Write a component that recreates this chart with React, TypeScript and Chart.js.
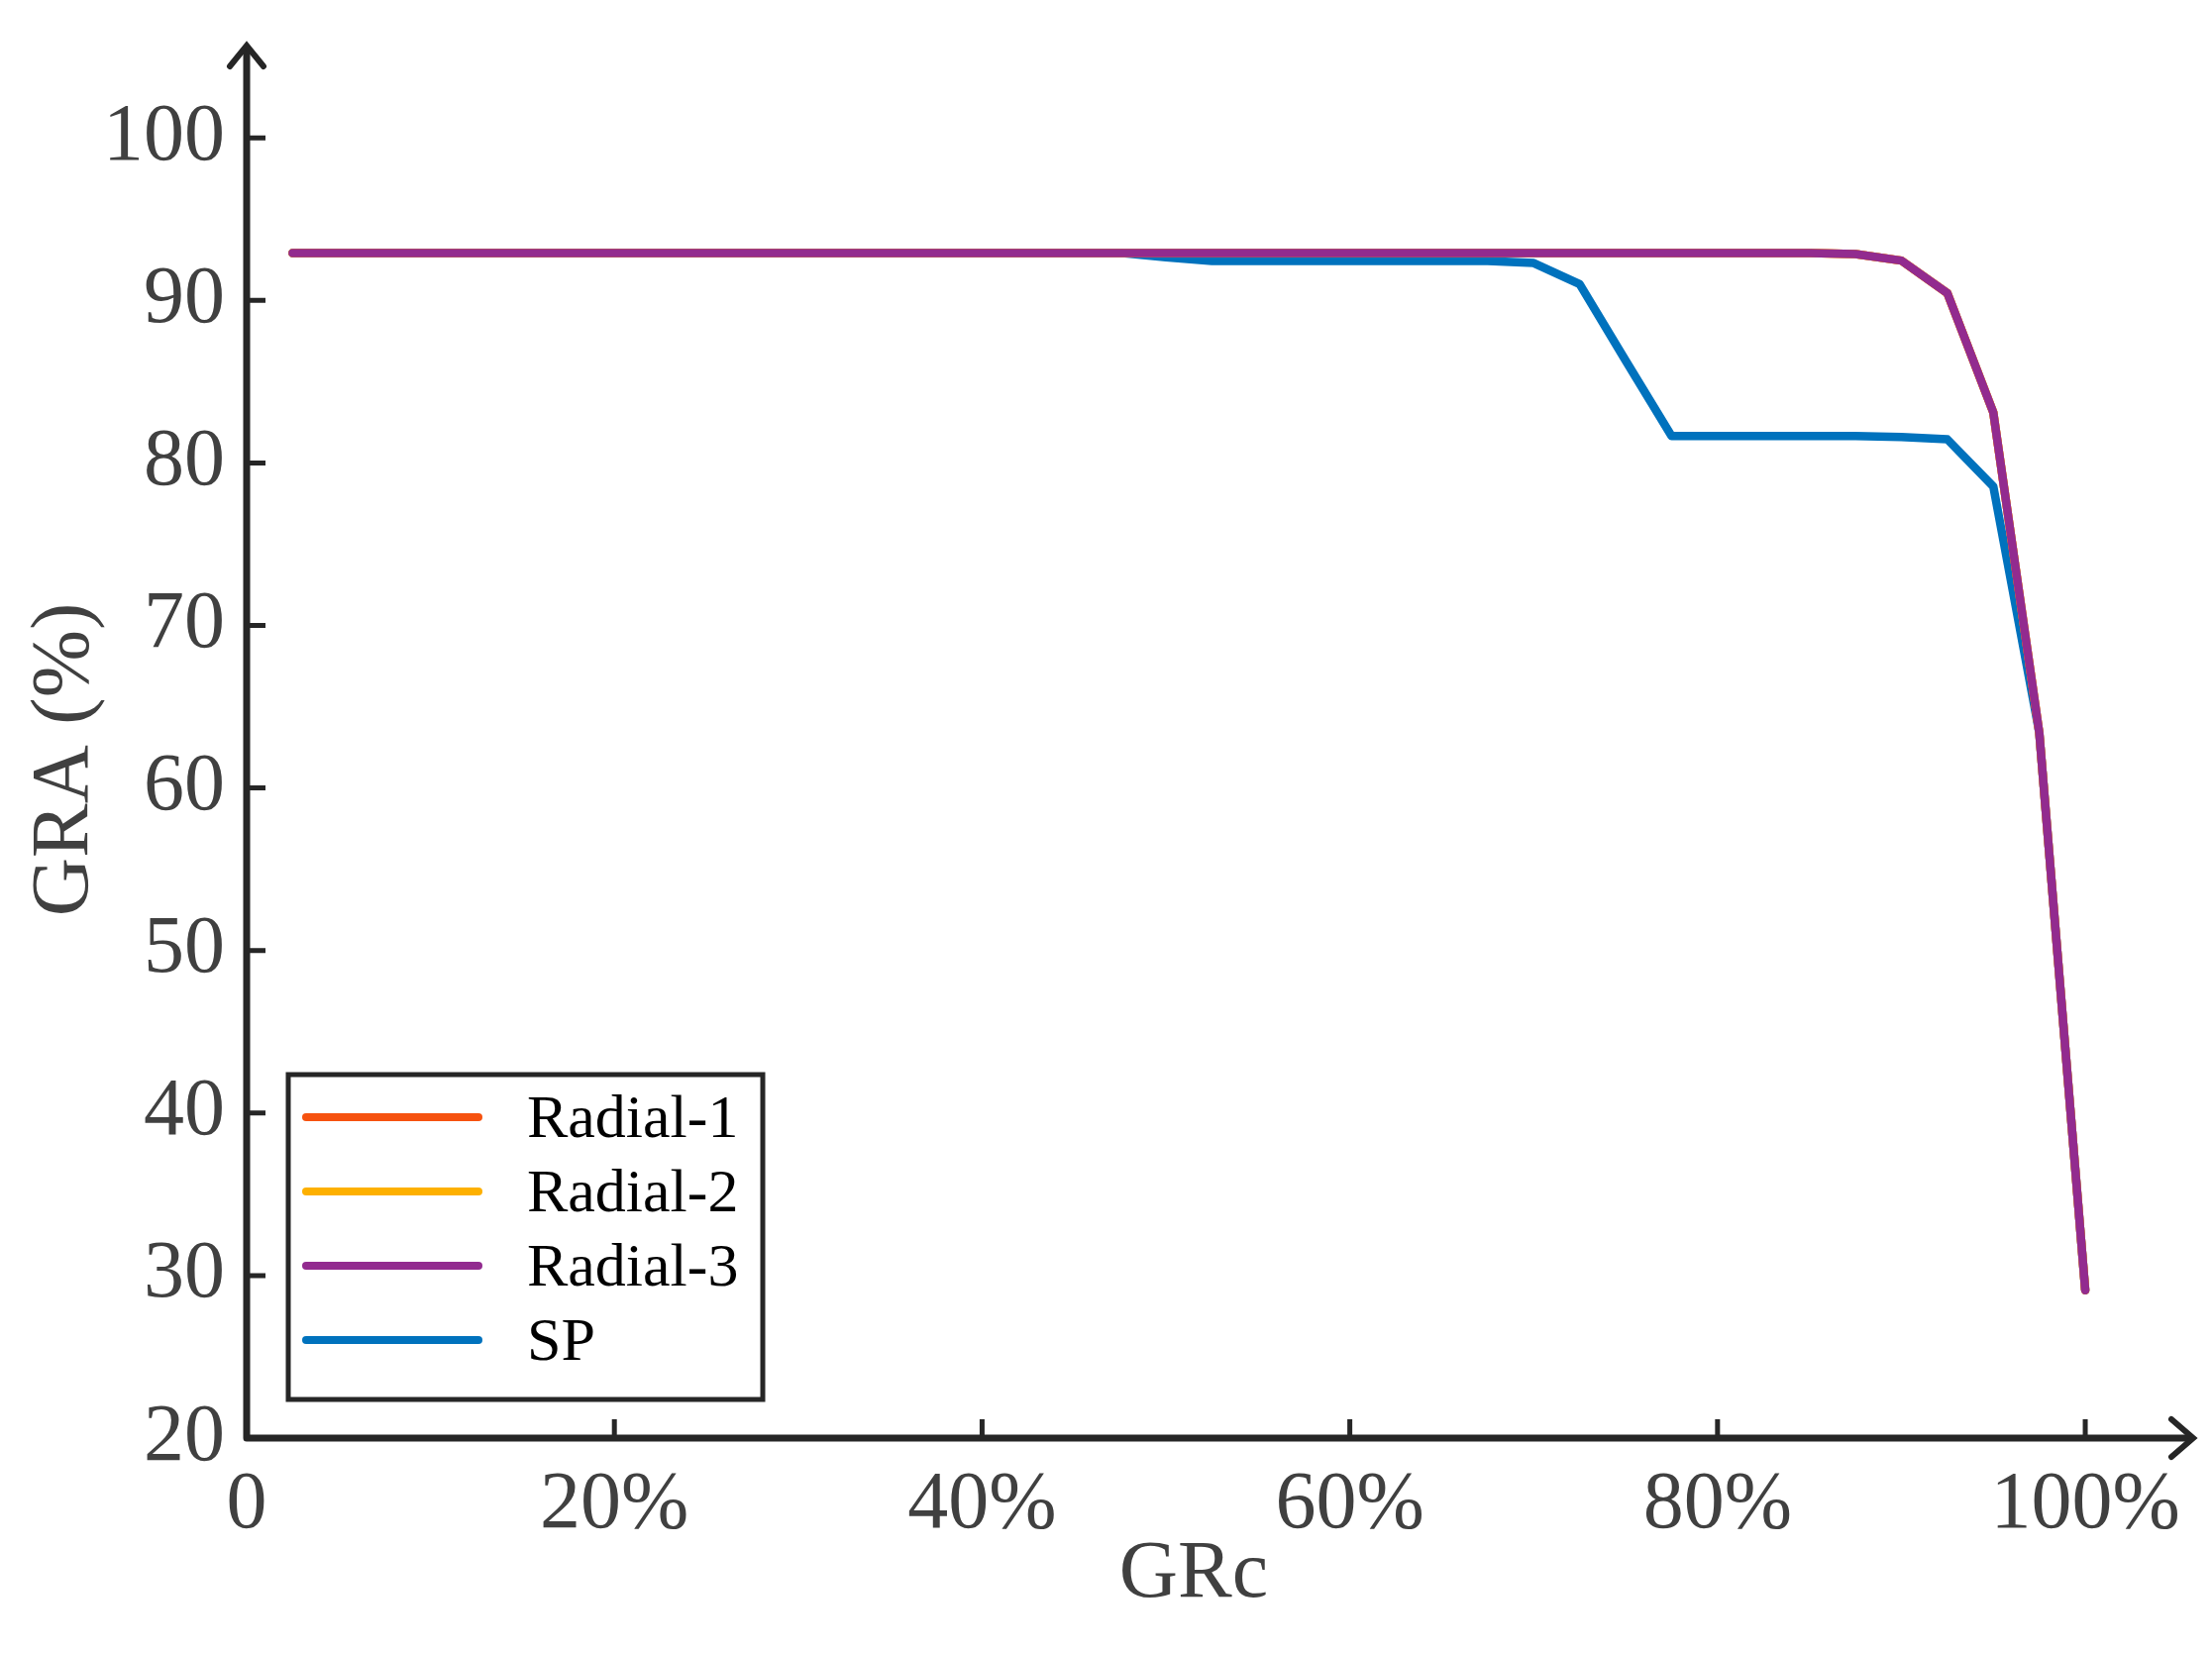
import React, { useEffect, useRef } from 'react';
import { Chart, registerables } from 'chart.js';

Chart.register(...registerables);

// GRc values (x axis, %)
const grc = [
  2.5, 5, 7.5, 10, 12.5, 15, 17.5, 20, 22.5, 25,
  27.5, 30, 32.5, 35, 37.5, 40, 42.5, 45, 47.5, 50,
  52.5, 55, 57.5, 60, 62.5, 65, 67.5, 70, 72.5, 75,
  77.5, 80, 82.5, 85, 87.5, 90, 92.5, 95, 97.5, 100,
];

// GRA (%) per series
const radial1 = [
  92.92, 92.92, 92.92, 92.92, 92.92, 92.92, 92.92, 92.92, 92.92, 92.92,
  92.92, 92.92, 92.92, 92.92, 92.92, 92.92, 92.92, 92.92, 92.92, 92.92,
  92.92, 92.92, 92.92, 92.92, 92.92, 92.92, 92.92, 92.92, 92.92, 92.92,
  92.92, 92.92, 92.92, 92.92, 92.85, 92.45, 90.45, 83.1, 63.4, 29.1,
];
const radial2 = [
  92.92, 92.92, 92.92, 92.92, 92.92, 92.92, 92.92, 92.92, 92.92, 92.92,
  92.92, 92.92, 92.92, 92.92, 92.92, 92.92, 92.92, 92.92, 92.92, 92.92,
  92.92, 92.92, 92.92, 92.92, 92.92, 92.92, 92.92, 92.92, 92.92, 92.92,
  92.92, 92.92, 92.92, 92.92, 92.85, 92.45, 90.45, 83.1, 63.4, 29.1,
];
const radial3 = [
  92.92, 92.92, 92.92, 92.92, 92.92, 92.92, 92.92, 92.92, 92.92, 92.92,
  92.92, 92.92, 92.92, 92.92, 92.92, 92.92, 92.92, 92.92, 92.92, 92.92,
  92.92, 92.92, 92.92, 92.92, 92.92, 92.92, 92.92, 92.92, 92.92, 92.92,
  92.92, 92.92, 92.92, 92.92, 92.85, 92.45, 90.45, 83.1, 63.4, 29.1,
];
const sp = [
  92.92, 92.92, 92.92, 92.92, 92.92, 92.92, 92.92, 92.92, 92.92, 92.92,
  92.92, 92.92, 92.92, 92.92, 92.92, 92.92, 92.92, 92.92, 92.92, 92.65,
  92.43, 92.43, 92.43, 92.43, 92.43, 92.43, 92.43, 92.3, 91.0, 86.3,
  81.65, 81.65, 81.65, 81.65, 81.65, 81.6, 81.45, 78.55, 63.4, 29.1,
];

const seriesNames = ['Radial-1', 'Radial-2', 'Radial-3', 'SP'];
const seriesColors = ['#F6520F', '#FDB000', '#922B8F', '#0072BD'];
const seriesData = [radial1, radial2, radial3, sp];
const seriesOrder = [2, 1, 0, 3];

const yTicks = [20, 30, 40, 50, 60, 70, 80, 90, 100];
const xTicks = [0, 20, 40, 60, 80, 100];
const xTickLabels = ['0', '20%', '40%', '60%', '80%', '100%'];
const xTitle = 'GRc';
const yTitle = 'GRA (%)';

const FONT = "'Liberation Serif', 'Times New Roman', serif";
const AXIS = '#262626';
const TEXT = '#404040';

const axesPlugin = {
  id: 'matlabAxes',
  afterDraw(chart: any) {
    const { ctx, chartArea, scales } = chart;
    const xs = scales.x;
    const ys = scales.y;
    const x0 = chartArea.left;
    const y0 = chartArea.bottom;
    const top = chartArea.top;
    const right = chartArea.right;
    ctx.save();
    ctx.strokeStyle = AXIS;
    ctx.lineCap = 'round';
    ctx.lineJoin = 'miter';

    // axis lines
    ctx.lineWidth = 7;
    ctx.beginPath();
    ctx.moveTo(x0, y0);
    ctx.lineTo(x0, top + 3);
    ctx.moveTo(x0, y0);
    ctx.lineTo(right - 3, y0);
    ctx.stroke();

    // arrowheads
    ctx.lineWidth = 6;
    ctx.beginPath();
    ctx.moveTo(x0 - 17, top + 21);
    ctx.lineTo(x0, top);
    ctx.lineTo(x0 + 17, top + 21);
    ctx.moveTo(right - 22, y0 - 19);
    ctx.lineTo(right, y0);
    ctx.lineTo(right - 22, y0 + 19);
    ctx.stroke();

    // inward tick marks
    ctx.lineWidth = 5;
    ctx.lineCap = 'butt';
    ctx.beginPath();
    for (const v of yTicks) {
      const py = ys.getPixelForValue(v);
      ctx.moveTo(x0, py);
      ctx.lineTo(x0 + 19, py);
    }
    for (const v of xTicks) {
      const px = xs.getPixelForValue(v);
      ctx.moveTo(px, y0);
      ctx.lineTo(px, y0 - 19);
    }
    ctx.stroke();

    // axis titles
    ctx.fillStyle = TEXT;
    ctx.font = `82px ${FONT}`;
    ctx.textAlign = 'center';
    ctx.textBaseline = 'middle';
    ctx.fillText(xTitle, 1205, 1590);
    ctx.save();
    ctx.translate(66, 767);
    ctx.rotate(-Math.PI / 2);
    ctx.fillText(yTitle, 0, 0);
    ctx.restore();

    // legend
    const lx = 291, ly = 1085, lw = 479, lh = 328;
    ctx.fillStyle = '#ffffff';
    ctx.fillRect(lx, ly, lw, lh);
    ctx.lineWidth = 5;
    ctx.strokeStyle = AXIS;
    ctx.strokeRect(lx, ly, lw, lh);
    ctx.font = `62px ${FONT}`;
    ctx.textAlign = 'left';
    ctx.textBaseline = 'middle';
    chart.data.datasets.forEach((ds: any, i: number) => {
      const ry = ly + 43 + i * 75;
      ctx.strokeStyle = ds.borderColor;
      ctx.lineWidth = 8;
      ctx.lineCap = 'round';
      ctx.beginPath();
      ctx.moveTo(lx + 18, ry);
      ctx.lineTo(lx + 192, ry);
      ctx.stroke();
      ctx.fillStyle = '#000000';
      ctx.fillText(ds.label, lx + 241, ry + 4);
    });
    ctx.restore();
  },
};

export default function App() {
  const ref = useRef<HTMLCanvasElement | null>(null);

  useEffect(() => {
    document.body.style.margin = '0';
    const canvas = ref.current;
    if (!canvas) return;
    const datasets = seriesNames.map((name, i) => ({
      label: name,
      data: grc.map((x, j) => ({ x, y: seriesData[i][j] })),
      borderColor: seriesColors[i],
      backgroundColor: seriesColors[i],
      borderWidth: 8.5,
      pointRadius: 0,
      tension: 0,
      fill: false,
      borderCapStyle: 'round',
      borderJoinStyle: 'round',
      order: seriesOrder[i],
      clip: false,
    }));
    const chart = new Chart(canvas, {
      type: 'line',
      data: { datasets } as any,
      options: {
        responsive: false,
        devicePixelRatio: 1,
        animation: false,
        layout: { padding: { left: 0, top: 46, right: 19, bottom: 0 } },
        plugins: {
          legend: { display: false },
          tooltip: { enabled: false },
          title: { display: false },
        },
        scales: {
          x: {
            type: 'linear',
            min: 0,
            max: 105.87,
            grid: { display: false, drawTicks: false },
            border: { display: false },
            afterFit: (s: any) => {
              s.height = 217;
              s.paddingLeft = 0;
              s.paddingRight = 0;
              s.paddingTop = 0;
              s.paddingBottom = 0;
            },
            afterBuildTicks: (s: any) => { s.ticks = xTicks.map((v) => ({ value: v })); },
            ticks: {
              autoSkip: false,
              maxRotation: 0,
              padding: 19,
              color: TEXT,
              font: { family: FONT, size: 82 },
              callback: (v: any) => xTickLabels[xTicks.indexOf(Number(v))] ?? '',
            },
          },
          y: {
            type: 'linear',
            min: 20,
            max: 105.68,
            grid: { display: false, drawTicks: false },
            border: { display: false },
            afterFit: (s: any) => {
              s.width = 249;
              s.paddingLeft = 0;
              s.paddingRight = 0;
              s.paddingTop = 0;
              s.paddingBottom = 0;
            },
            afterBuildTicks: (s: any) => { s.ticks = yTicks.map((v) => ({ value: v })); },
            ticks: {
              autoSkip: false,
              padding: 22,
              color: TEXT,
              font: { family: FONT, size: 82 },
              callback: (v: any) => String(v),
            },
          },
        },
      } as any,
      plugins: [axesPlugin],
    });
    return () => chart.destroy();
  }, []);

  return (
    <div style={{ position: 'absolute', left: 0, top: 0, width: 2233, height: 1669, background: '#ffffff' }}>
      <canvas ref={ref} width={2233} height={1669} style={{ width: 2233, height: 1669, display: 'block' }} />
    </div>
  );
}
